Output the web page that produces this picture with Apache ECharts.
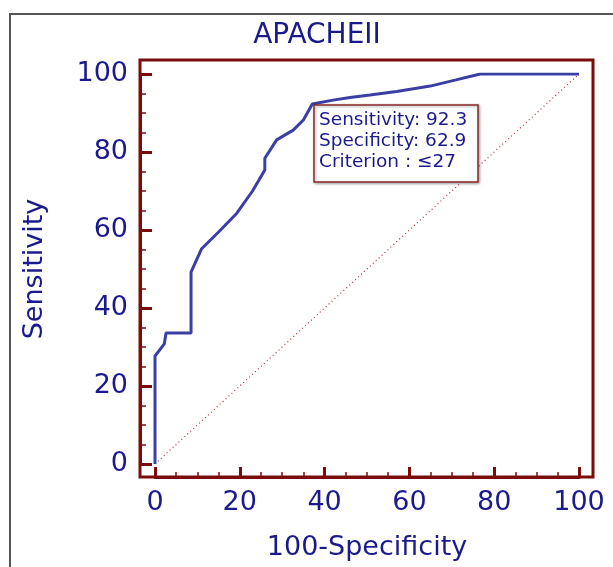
<!DOCTYPE html>
<html>
<head>
<meta charset="utf-8">
<script src="https://cdn.jsdelivr.net/npm/echarts@6/dist/echarts.min.js"></script>
<style>
  html, body { margin: 0; padding: 0; background: #fff; }
  #main { width: 613px; height: 567px; }
</style>
</head>
<body>
<div id="main"></div>
<script>
// ROC curve points: 100-Specificity, Sensitivity
var fpr = [0, 0, 2.2, 2.6, 8.5, 8.5, 11, 15, 19.3, 23, 25.9, 25.9, 28.7, 32.6, 35, 37.1, 42, 46, 50.7, 57, 64.9, 71, 76.7, 100];
var tpr = [0, 27.7, 30.8, 33.6, 33.6, 49.2, 55.2, 59.5, 64.3, 70, 75.4, 78.4, 83.1, 85.6, 88.2, 92.3, 93.3, 94, 94.6, 95.5, 96.9, 98.5, 100, 100];
var refLine = [[0, 0], [100, 100]];
var tickLabels = [0, 20, 40, 60, 80, 100];
var boxLines = ['Sensitivity: 92.3', 'Specificity: 62.9', 'Criterion : \u226427'];

var navy = '#1a1a8c';
var frame = '#7a0c0c';
var font = 'DejaVu Sans, sans-serif';

var curve = [];
for (var i = 0; i < fpr.length; i++) {
  curve.push([fpr[i], tpr[i]]);
}

var chart = echarts.init(document.getElementById('main'));
chart.setOption({
  animation: false,
  title: {
    text: 'APACHEII',
    left: 312,
    textAlign: 'center',
    top: 17,
    textStyle: { color: navy, fontSize: 28, fontWeight: 'normal', fontFamily: font }
  },
  grid: { left: 155, right: 34, top: 74, bottom: 103 },
  xAxis: {
    type: 'value',
    min: 0, max: 100, interval: 20,
    offset: 13,
    name: '100-Specificity',
    nameLocation: 'middle',
    nameGap: 57,
    nameTextStyle: { color: navy, fontSize: 27, fontFamily: font },
    axisLine: { show: true, onZero: false, lineStyle: { color: frame, width: 3 } },
    axisTick: { show: true, inside: true, length: 10, lineStyle: { color: frame, width: 3 } },
    minorTick: { show: true, splitNumber: 4, length: 5, lineStyle: { color: frame, width: 1.5 } },
    axisLabel: { color: navy, fontSize: 27, fontFamily: font, margin: 12,
      formatter: function (v) { return tickLabels.indexOf(v) >= 0 ? v : ''; } },
    splitLine: { show: false }
  },
  yAxis: {
    type: 'value',
    min: 0, max: 100, interval: 20,
    offset: 15,
    name: 'Sensitivity',
    nameLocation: 'middle',
    nameGap: 92,
    nameTextStyle: { color: navy, fontSize: 27, fontFamily: font },
    axisLine: { show: true, onZero: false, lineStyle: { color: frame, width: 3 } },
    axisTick: { show: true, inside: true, length: 12, lineStyle: { color: frame, width: 3 } },
    minorTick: { show: true, splitNumber: 4, length: 6, lineStyle: { color: frame, width: 1.5 } },
    axisLabel: { color: navy, fontSize: 27, fontFamily: font, margin: 12 },
    splitLine: { show: false }
  },
  graphic: [
    {
      type: 'rect',
      shape: { x: 10, y: 14, width: 700, height: 700 },
      style: { fill: 'none', stroke: '#555', lineWidth: 2 },
      silent: true, z: -10
    },
    {
      type: 'rect',
      shape: { x: 140, y: 60, width: 453, height: 417 },
      style: { fill: 'none', stroke: frame, lineWidth: 3 },
      silent: true, z: 10
    },
    {
      type: 'rect',
      shape: { x: 314, y: 105, width: 164, height: 77 },
      style: { fill: '#fff', stroke: '#8a2a2a', lineWidth: 1.5,
        shadowBlur: 3, shadowColor: 'rgba(0,0,0,0.35)', shadowOffsetX: 1, shadowOffsetY: 1 },
      z: 20
    },
    {
      type: 'text',
      left: 319, top: 110,
      style: { text: boxLines.join('\n'), fill: navy, fontSize: 18.5, lineHeight: 21, fontFamily: font },
      z: 21
    }
  ],
  series: [
    {
      type: 'line',
      data: refLine,
      symbol: 'none',
      lineStyle: { color: '#a83434', width: 1.2, type: [1, 3] },
      z: 2
    },
    {
      type: 'line',
      data: curve,
      symbol: 'none',
      lineStyle: { color: '#3b3fa3', width: 3 },
      z: 3
    }
  ]
});
</script>
</body>
</html>
